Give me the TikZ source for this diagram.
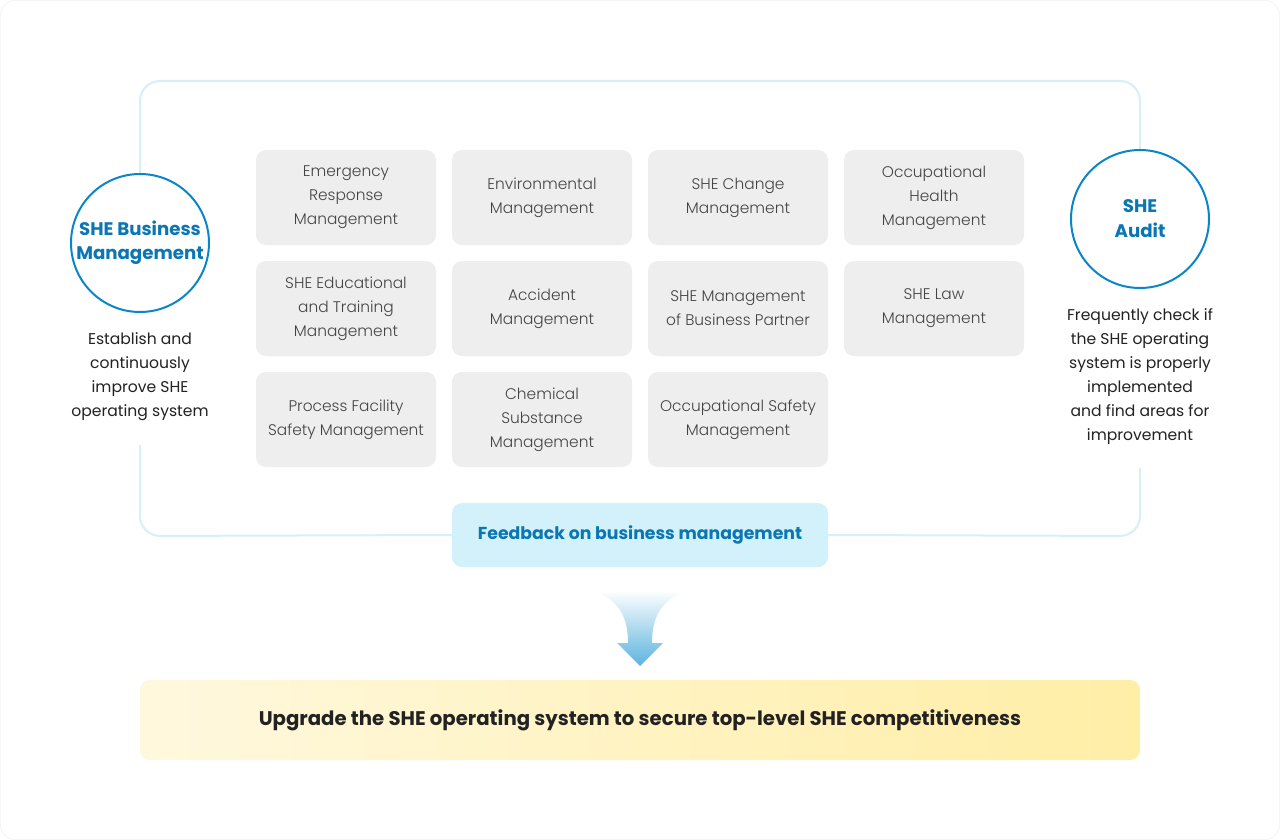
\documentclass[tikz,border=0pt]{standalone}
\usepackage{fontspec}
\setmainfont{Poppins}
\newfontfamily\lightfont{Poppins}[UprightFont={* Light}]
\usepackage{tikz}

\definecolor{sheblue}{HTML}{0A86C8}
\definecolor{shetext}{HTML}{0A76B3}
\definecolor{loopcol}{HTML}{D5F0F9}
\definecolor{boxgray}{HTML}{EEEEEE}
\definecolor{boxtext}{HTML}{444444}
\definecolor{desctext}{HTML}{222222}
\definecolor{fbfill}{HTML}{D3F1FA}
\definecolor{barleft}{HTML}{FFF8DE}
\definecolor{barright}{HTML}{FFEEA6}
\definecolor{arrowcol}{HTML}{5CB3DF}
\definecolor{framecol}{HTML}{E8E8E8}

\begin{document}
\begin{tikzpicture}[x=1pt,y=-1pt,
  mgmt/.style={fill=boxgray, rounded corners=10pt, minimum width=180pt, minimum height=95pt,
    inner sep=0pt, align=center, text=boxtext, font=\lightfont\fontsize{15.4}{24}\selectfont},
  circ/.style={circle, draw=sheblue, line width=2pt, fill=white, minimum size=138pt, inner sep=0pt,
    align=center, text=shetext, font=\bfseries\fontsize{18.2}{24}\selectfont},
  desc/.style={align=center, inner sep=0pt, text=desctext, font=\fontsize{15.6}{24}\selectfont},
  loopline/.style={draw=loopcol, line width=2pt, rounded corners=20pt}]
% page and outer frame
\useasboundingbox (0,0) rectangle (1280,840);
\draw[framecol, fill=white, rounded corners=15pt] (0.5,0.5) rectangle (1279.5,839.5);

% the two ends of the loop
\node[circ] (bizmgmt) at (140,243) {SHE Business\\Management};
\node[desc] (bizdesc) at (140,377) {Establish and\\continuously\\improve SHE\\operating system};
\node[circ, font=\bfseries\fontsize{18.2}{25}\selectfont] (audit) at (1140,219) {SHE\\Audit};
\node[desc] (auditdesc) at (1140,377) {Frequently check if\\the SHE operating\\system is properly\\implemented\\and find areas for\\improvement};
\node[fill=fbfill, rounded corners=10pt, minimum width=376pt, minimum height=64pt, text=shetext,
  font=\bfseries\fontsize{17.3}{20}\selectfont] (feedback) at (640,535) {Feedback on business management};
\coordinate (lgap) at (140,445);
\coordinate (rgap) at (1140,468);

% loop line
\draw[loopline] (bizmgmt.north) -- (140,81) -- (1140,81) -- (audit.north);
\draw[loopline] (rgap) -- (1140,536) -- (feedback.east);
\draw[loopline] (feedback.west) -- (140,536) -- (lgap);

% management areas
\node[mgmt] (emerg) at (346,197.5) {Emergency\\Response\\Management};
\node[mgmt] (env) at (542,197.5) {Environmental\\Management};
\node[mgmt] (change) at (738,197.5) {SHE Change\\Management};
\node[mgmt] (health) at (934,197.5) {Occupational\\Health\\Management};
\node[mgmt] (edu) at (346,308.5) {SHE Educational\\and Training\\Management};
\node[mgmt] (accident) at (542,308.5) {Accident\\Management};
\node[mgmt] (partner) at (738,308.5) {SHE Management\\of Business Partner};
\node[mgmt] (law) at (934,308.5) {SHE Law\\Management};
\node[mgmt] (process) at (346,419.5) {Process Facility\\Safety Management};
\node[mgmt] (chem) at (542,419.5) {Chemical\\Substance\\Management};
\node[mgmt] (safety) at (738,419.5) {Occupational Safety\\Management};

% down arrow
\shade[top color=white, bottom color=arrowcol]
  (592,590) .. controls (620,600) and (628,618) .. (628,643) -- (617,643) -- (640,666)
  -- (663,643) -- (652,643) .. controls (652,618) and (660,600) .. (688,590) -- cycle;

% result bar
\node[left color=barleft, right color=barright, rounded corners=10pt, minimum width=1000pt,
  minimum height=80pt, text=desctext, font=\bfseries\fontsize{19.7}{22}\selectfont] (upgrade) at (640,720)
  {Upgrade the SHE operating system to secure top-level SHE competitiveness};
\end{tikzpicture}
\end{document}
